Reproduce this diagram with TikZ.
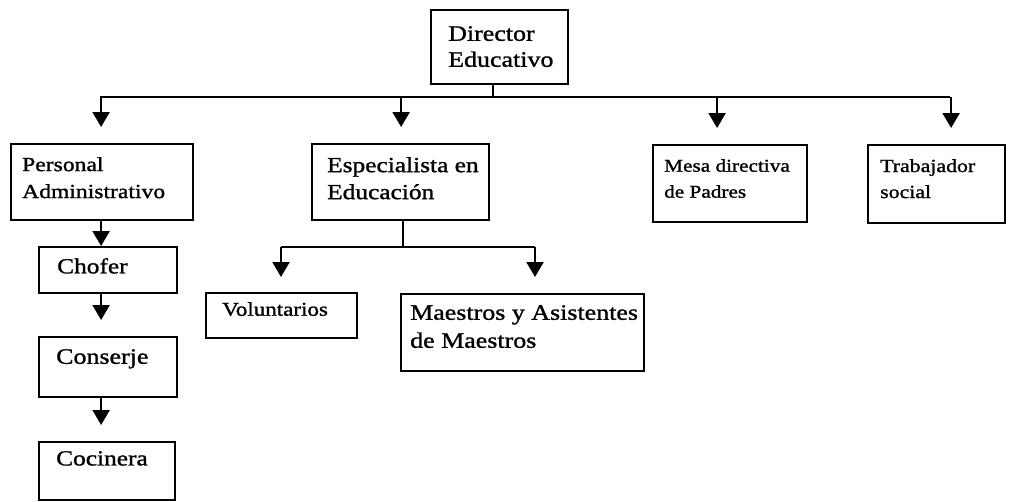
\documentclass[tikz,border=0pt]{standalone}
\usepackage{fontspec}
\setmainfont{Liberation Serif}
\newfontfamily\scanserif[FakeStretch=1.18, FakeBold=1.2]{Liberation Serif}
\usetikzlibrary{arrows.meta}
\begin{document}
\begin{tikzpicture}[x=1pt, y=-1pt,
  box/.style={draw, line width=2.2pt, anchor=north west, inner sep=0pt},
  txt/.style 2 args={anchor=north west, inner sep=0pt, align=left,
    font=\scanserif\fontsize{#1}{#2}\selectfont},
  line/.style={line width=2.2pt},
  arr/.style={line width=2.2pt, -{Triangle[width=17pt, length=15pt]}}]
\useasboundingbox (0,0) rectangle (1009,501);

% top level
\node[box, minimum width=137pt, minimum height=74pt,
  label={[txt={22}{26}, xshift=18pt, yshift=-17pt]north west:Director\\Educativo}] (dir) at (430,9) {};
\node[box, minimum width=182pt, minimum height=76pt,
  label={[txt={20}{27}, xshift=12pt, yshift=-14pt]north west:Personal\\Administrativo}] (pers) at (10,143) {};
\node[box, minimum width=177pt, minimum height=76pt,
  label={[txt={21.5}{27}, xshift=16pt, yshift=-14pt]north west:Especialista en\\Educación}] (esp) at (311,143) {};
\node[box, minimum width=154pt, minimum height=77pt,
  label={[txt={18}{26}, xshift=12pt, yshift=-15pt]north west:Mesa directiva\\de Padres}] (mesa) at (652,144) {};
\node[box, minimum width=137pt, minimum height=78pt,
  label={[txt={18.5}{26}, xshift=13pt, yshift=-15pt]north west:Trabajador\\social}] (trab) at (867,144) {};

% administrative column
\node[box, minimum width=138pt, minimum height=46pt,
  label={[txt={21.5}{27}, xshift=19pt, yshift=-12pt]north west:Chofer}] (chof) at (38,246) {};
\node[box, minimum width=138pt, minimum height=60pt,
  label={[txt={22}{27}, xshift=18pt, yshift=-13pt]north west:Conserje}] (cons) at (38,336) {};
\node[box, minimum width=136pt, minimum height=58pt,
  label={[txt={21.5}{27}, xshift=18pt, yshift=-10pt]north west:Cocinera}] (coc) at (38,441) {};

% education branch
\node[box, minimum width=151pt, minimum height=45pt,
  label={[txt={19.5}{27}, xshift=17pt, yshift=-10pt]north west:Voluntarios}] (vol) at (205,292) {};
\node[box, minimum width=243pt, minimum height=77pt,
  label={[txt={22}{28}, xshift=10pt, yshift=-12pt]north west:Maestros y Asistentes\\de Maestros}] (maes) at (400,293) {};

% connectors from the director
\coordinate (barL) at (100,97);
\coordinate (barR) at (950,97);
\draw[line] ([xshift=-7pt]dir.south) -- ([xshift=-7pt]dir.south |- barL);
\draw[line] (barL) -- (barR);
\foreach \n/\dx in {pers/-1, esp/0.5, mesa/-13, trab/14.5}
  \draw[arr] ([xshift=\dx pt]\n.north |- barL) -- ([xshift=\dx pt, yshift=16pt]\n.north);

% chain below Personal Administrativo
\draw[arr] ([xshift=-1pt]pers.south) -- ([xshift=-1pt]pers.south |- chof.north);
\draw[arr] ([xshift=-1pt]pers.south |- chof.south) -- ([xshift=-1pt, yshift=16pt]pers.south |- cons.north);
\draw[arr] ([xshift=-1pt]pers.south |- cons.south) -- ([xshift=-1pt, yshift=16pt]pers.south |- coc.north);

% connectors from Especialista
\coordinate (sbarL) at (281,247);
\coordinate (sbarR) at (535,247);
\draw[line] ([xshift=2.5pt]esp.south) -- ([xshift=2.5pt]esp.south |- sbarL);
\draw[line] (sbarL) -- (sbarR);
\draw[arr] (sbarL) -- ([yshift=15pt]sbarL |- vol.north);
\draw[arr] (sbarR) -- ([yshift=16pt]sbarR |- maes.north);
\end{tikzpicture}
\end{document}
